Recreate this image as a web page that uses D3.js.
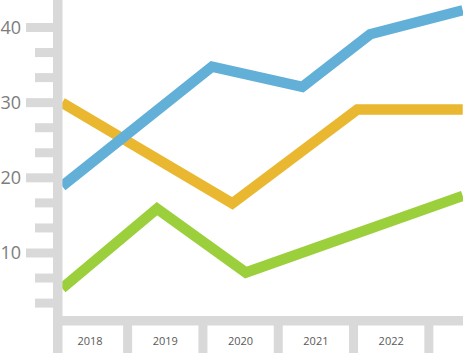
<!DOCTYPE html>
<html>
<head>
<meta charset="utf-8">
<script src="https://cdn.jsdelivr.net/npm/d3@7"></script>
<style>
  body { margin: 0; background: #fff; }
  svg { display: block; font-family: "Open Sans", sans-serif; }
</style>
</head>
<body>
<script>
// data (x in years, vertices are not on the year grid)
var years = [2018, 2019, 2020, 2021, 2022];
var yTicks = [10, 20, 30, 40];

var blueX   = [2017.63, 2019.62, 2020.82, 2021.72, 2022.95];
var blueY   = [18.9, 34.8, 32.1, 39.1, 42.3];
var orangeX = [2017.63, 2019.89, 2021.55, 2022.95];
var orangeY = [30.0, 16.6, 29.1, 29.1];
var greenX  = [2017.63, 2018.89, 2020.07, 2022.95];
var greenY  = [5.3, 15.9, 7.4, 17.6];

var width = 463, height = 353;
var grey = "#d9d9d9";

var svg = d3.select("body").append("svg")
    .attr("width", width)
    .attr("height", height);

// scales
var x = d3.scaleLinear().domain([2018, 2022]).range([90, 90 + 4 * 75.3]);
var y = d3.scaleLinear().domain([10, 40]).range([253, 27.5]);

// the lines
var line = d3.line()
    .x(function(d) { return x(d[0]); })
    .y(function(d) { return y(d[1]); });

var series = [
  { xs: orangeX, ys: orangeY, color: "#e9b830" },
  { xs: greenX,  ys: greenY,  color: "#9bcf3b" },
  { xs: blueX,   ys: blueY,   color: "#62afd7" }
];

series.forEach(function(s) {
  svg.append("path")
     .datum(d3.zip(s.xs, s.ys))
     .attr("d", line)
     .attr("fill", "none")
     .attr("stroke", s.color)
     .attr("stroke-width", 10.5)
     .attr("stroke-linejoin", "miter");
});

// y axis bar and its ticks
var axisX = 53, barW = 9.5, baseY = 316;

svg.append("rect")
   .attr("x", axisX).attr("y", 0)
   .attr("width", barW).attr("height", baseY + 9.5)
   .attr("fill", grey);

var minor = d3.range(1, 13).map(function(i) { return i * 10 / 3; });
svg.selectAll(".ytick")
   .data(minor)
   .enter().append("rect")
   .attr("class", "ytick")
   .attr("x", function(d, i) { return (i + 1) % 3 === 0 ? 26 : 35; })
   .attr("y", function(d) { return y(d) - 4.5; })
   .attr("width", function(d, i) { return axisX - ((i + 1) % 3 === 0 ? 26 : 35); })
   .attr("height", 9)
   .attr("fill", grey);

svg.selectAll(".ylabel")
   .data(yTicks)
   .enter().append("text")
   .attr("class", "ylabel")
   .attr("x", 21)
   .attr("y", function(d) { return y(d); })
   .attr("dy", "0.36em")
   .attr("text-anchor", "end")
   .style("font-size", "18px")
   .style("fill", "#7d7d7d")
   .text(function(d) { return d; });

// x axis bar, separators and labels
svg.append("rect")
   .attr("x", axisX).attr("y", baseY)
   .attr("width", width - axisX).attr("height", 9.5)
   .attr("fill", grey);

svg.selectAll(".sep")
   .data(years)
   .enter().append("rect")
   .attr("class", "sep")
   .attr("x", function(d) { return x(d + 0.5) - 4.5; })
   .attr("y", baseY)
   .attr("width", 9)
   .attr("height", height - baseY)
   .attr("fill", grey);

svg.append("rect")
   .attr("x", axisX).attr("y", baseY)
   .attr("width", barW).attr("height", height - baseY)
   .attr("fill", grey);

svg.selectAll(".xlabel")
   .data(years)
   .enter().append("text")
   .attr("class", "xlabel")
   .attr("x", function(d) { return x(d); })
   .attr("y", 345)
   .attr("text-anchor", "middle")
   .style("font-size", "11px")
   .style("fill", "#595959")
   .text(function(d) { return d; });
</script>
</body>
</html>
